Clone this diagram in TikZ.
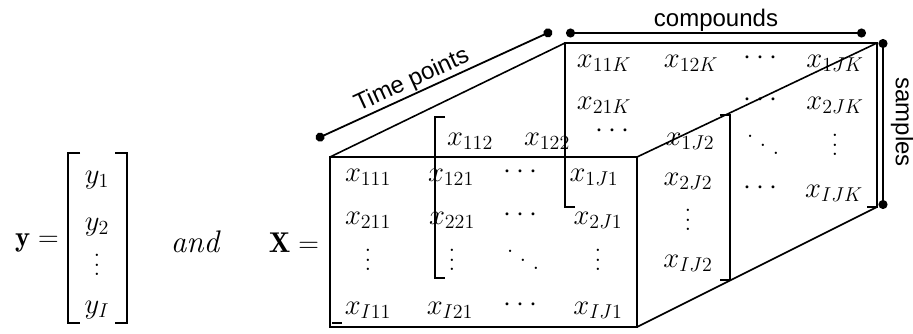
\RequirePackage{fix-cm}
\documentclass[tikz,border=0pt]{standalone}
\usepackage{amsmath}
\usepackage{fontspec}
\newfontfamily\dimfont{Liberation Sans}
\usetikzlibrary{arrows.meta,calc}
% dots that grow with the font size
\newcommand{\vdts}{\vbox{\baselineskip0.33em\lineskiplimit0pt\hbox{.}\hbox{.}\hbox{.}}}
\newcommand{\ddts}{\hbox{\raisebox{0.6em}{.}\kern0.2em\raisebox{0.3em}{.}\kern0.2em\raisebox{0em}{.}}}

\begin{document}
\begin{tikzpicture}[x=1pt,y=-1pt,
    ent/.style={font=\fontsize{22}{26}\selectfont,inner sep=0pt,scale=1.3,transform shape},
    face/.style={line width=1.6pt},
    brk/.style={line width=1.3pt},
    dimln/.style={line width=1.8pt,{Circle[length=9pt]}-{Circle[length=9pt]}},
    dimlbl/.style={font=\dimfont\fontsize{24}{28}\selectfont,inner sep=3pt}
  ]
  \useasboundingbox (0,0) rectangle (913,333);
  % corners of the three slices
  \coordinate (fTL) at (330,157); \coordinate (fTR) at (637,157);
  \coordinate (fBR) at (637,327); \coordinate (fBL) at (330,327);
  \coordinate (bTL) at (565,43);  \coordinate (bTR) at (877,43);
  \coordinate (bBR) at (877,207); \coordinate (bBL) at (565,207);
  \coordinate (mTL) at (435,117); \coordinate (mBL) at (435,278);
  \coordinate (mTR) at (730,115); \coordinate (mBR) at (730,280);
  % dimension lines
  \coordinate (tp1) at (316,139); \coordinate (tp2) at (552,31);
  \coordinate (cp1) at (566,33);  \coordinate (cp2) at (866,33);
  \coordinate (sp1) at (883,39);  \coordinate (sp2) at (883,209);
  \draw[dimln] (tp1) -- node[dimlbl,sloped,above,pos=0.43,inner sep=1pt] (tplbl) {Time points} (tp2);
  \draw[dimln] (cp1) -- (cp2);
  \node[dimlbl,above,inner sep=1pt] (cplbl) at ($(cp1)!0.5!(cp2)$) {compounds};
  \draw[dimln] (sp1) -- (sp2);
  \node[dimlbl,rotate=-90,inner sep=0pt] (splbl) at (902,122) {samples};
  % slices
  \draw[face] (fTL) rectangle (fBR);
  \draw[brk] ($(fBL)+(12,-4)$) -- ($(fBL)+(2,-4)$);
  \draw[face] ($(bBL)+(10,0)$) -- (bBL) -- (bTL) -- (bTR) -- (bBR) -- ++(-10,0);
  \draw[brk] ($(mTL)+(10,0)$) -- (mTL) -- (mBL) -- ++(10,0);
  \draw[brk] ($(mTR)+(-10,0)$) -- (mTR) -- (mBR) -- ++(-10,0);
  \foreach \a/\b in {fTL/bTL,fTR/bTR,fBR/bBR} \draw[face] (\a) -- (\b);
  % vector y
  \node[ent] (yeq) at (37,243) {$\mathbf{y}=$};
  \draw[brk] (80,153) -- (68,153) -- (68,323) -- (80,323);
  \draw[brk] (115,153) -- (127,153) -- (127,323) -- (115,323);
  \foreach \t/\y [count=\i] in {y_1/180,y_2/227,\vdts/265,y_I/310}
    \node[ent] (y\i) at (97,\y) {$\t$};
  \node[ent,font=\fontsize{24}{28}\selectfont] (andw) at (195,242) {$\mathit{and}$};
  \node[ent] (Xeq) at (294,243) {$\mathbf{X}=$};
  % front slice
  \foreach \t/\x/\y [count=\i] in {x_{111}/368/177,x_{121}/451/177,\cdots/523/172,x_{1J1}/594/177,
      x_{211}/368/220,x_{221}/452/220,\cdots/523/215,x_{2J1}/598/220,
      \vdts/368/260,\vdts/452/260,\ddts/523/260,\vdts/598/260,
      x_{I11}/368/310,x_{I21}/450/310,\cdots/523/305,x_{IJ1}/598/310}
    \node[ent] (f\i) at (\x,\y) {$\t$};
  % middle slice
  \foreach \t/\x/\y [count=\i] in {x_{112}/470/141,x_{122}/547/141,x_{1J2}/690/141,
      x_{2J2}/688/181,\vdts/688/220,x_{IJ2}/688/263}
    \node[ent] (m\i) at (\x,\y) {$\t$};
  % back slice
  \foreach \t/\x/\y [count=\i] in {x_{11K}/604/63,x_{12K}/691/63,\cdots/763/58,x_{1JK}/835/63,
      x_{21K}/604/105,\cdots/763/100,x_{2JK}/835/105,
      \cdots/615/131,\ddts/763/145,\vdts/835/145,
      \cdots/763/188,x_{IJK}/834/193}
    \node[ent] (k\i) at (\x,\y) {$\t$};
\end{tikzpicture}
\end{document}
